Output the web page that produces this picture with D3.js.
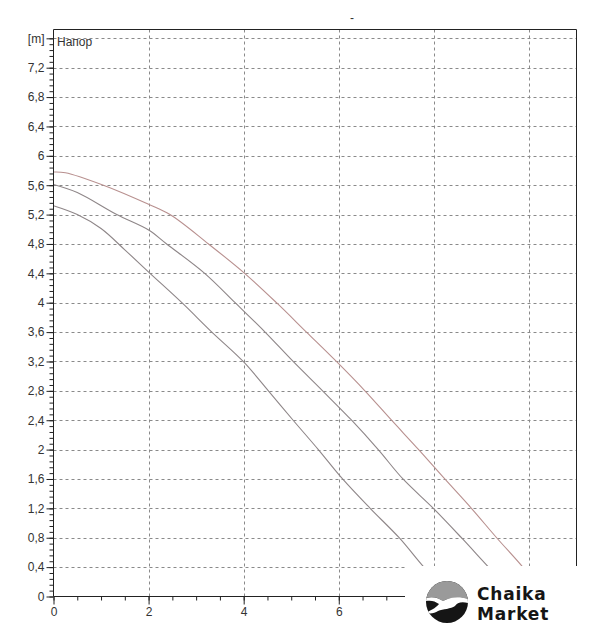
<!DOCTYPE html>
<html><head><meta charset="utf-8">
<script src="https://cdn.jsdelivr.net/npm/d3@7/dist/d3.min.js"></script>
<style>body{margin:0;background:#fff;} svg{display:block;}</style>
</head><body>
<svg id="c" width="601" height="640"></svg>
<script>
const xMajor = [0, 2, 4, 6];
const xGrid = [2, 4, 6, 8, 10];
const yMajor = [0, 0.4, 0.8, 1.2, 1.6, 2, 2.4, 2.8, 3.2, 3.6, 4, 4.4, 4.8, 5.2, 5.6, 6, 6.4, 6.8, 7.2, 7.6];
const yUnitLabel = "[m]";
const seriesLabel = "Напор";
const titleText = "-";

const curveTop = [[0,5.78],[0.25,5.77],[1.05,5.6],[2.0,5.34],[2.45,5.2],[3.26,4.8],[4.02,4.4],[4.69,4.0],[5.32,3.6],[5.95,3.2],[6.55,2.8],[7.11,2.4],[7.68,2.0],[8.23,1.6],[8.79,1.2],[9.32,0.8],[9.87,0.4],[9.98,0.3]];
const curveMid = [[0,5.61],[0.5,5.5],[1.33,5.2],[2.0,4.99],[2.38,4.8],[3.18,4.4],[3.82,4.0],[4.45,3.6],[5.04,3.2],[5.66,2.8],[6.27,2.4],[6.83,2.0],[7.35,1.6],[7.99,1.2],[8.58,0.8],[9.15,0.4],[9.3,0.3]];
const curveLow = [[0,5.32],[0.5,5.2],[1.0,5.01],[1.5,4.72],[2.03,4.4],[2.70,4.0],[3.33,3.6],[3.99,3.2],[4.52,2.8],[5.04,2.4],[5.57,2.0],[6.08,1.6],[6.66,1.2],[7.27,0.8],[7.79,0.4],[7.95,0.3]];

const svg = d3.select("#c");
const L = 53.5, R = 576.5, T = 29.5, B = 596.5;
const x = d3.scaleLinear().domain([0, 11]).range([L, R]);
const y = d3.scaleLinear().domain([0, 7.72]).range([B, T]);
const font = "Liberation Sans, Arial, sans-serif";
const fmt = d => String(d).replace(".", ",");

// grid
const g = svg.append("g");
g.selectAll("line.h").data(yMajor.filter(v => v > 0)).join("line")
  .attr("x1", L).attr("x2", R).attr("y1", d => Math.round(y(d)) + 0.5).attr("y2", d => Math.round(y(d)) + 0.5)
  .attr("stroke", "#8a8a8a").attr("stroke-dasharray", "3,3").attr("stroke-width", 1);
g.selectAll("line.v").data(xGrid).join("line")
  .attr("y1", T).attr("y2", B).attr("x1", d => Math.round(x(d)) + 0.5).attr("x2", d => Math.round(x(d)) + 0.5)
  .attr("stroke", "#8a8a8a").attr("stroke-dasharray", "3,3").attr("stroke-width", 1);

// curves
const line = d3.line().x(d => x(d[0])).y(d => y(d[1])).curve(d3.curveCatmullRom.alpha(0.5));
svg.append("path").datum(curveLow).attr("d", line).attr("fill", "none").attr("stroke", "#8e8688").attr("stroke-width", 1.1);
svg.append("path").datum(curveMid).attr("d", line).attr("fill", "none").attr("stroke", "#8e8688").attr("stroke-width", 1.1);
svg.append("path").datum(curveTop).attr("d", line).attr("fill", "none").attr("stroke", "#b8908f").attr("stroke-width", 1.1);

// frame
svg.append("line").attr("x1", L).attr("x2", R).attr("y1", T).attr("y2", T).attr("stroke", "#222");
svg.append("line").attr("x1", R).attr("x2", R).attr("y1", T).attr("y2", B).attr("stroke", "#222");

// y axis
const yMinor = d3.range(0, 7.62, 0.08).map(v => +v.toFixed(2));
svg.append("g").attr("transform", `translate(${L},0)`)
  .call(d3.axisLeft(y).tickValues(yMinor).tickSize(4).tickFormat(""))
  .call(a => a.select(".domain").remove())
  .selectAll("line").attr("stroke", "#222");
const ya = svg.append("g").attr("transform", `translate(${L},0)`)
  .call(d3.axisLeft(y).tickValues(yMajor).tickSize(7).tickPadding(2)
    .tickFormat(d => d === 7.6 ? yUnitLabel : fmt(d)));
ya.select(".domain").attr("stroke", "#222").attr("d", `M0,${B}V${T}`);
ya.selectAll("line").attr("stroke", "#222");
ya.selectAll("text").attr("font-family", font).attr("font-size", 12).attr("fill", "#333");

// x axis
const xMinor = d3.range(0, 7.51, 0.5);
svg.append("g").attr("transform", `translate(0,${B})`)
  .call(d3.axisBottom(x).tickValues(xMinor).tickSize(4).tickFormat(""))
  .call(a => a.select(".domain").remove())
  .selectAll("line").attr("stroke", "#222");
const xa = svg.append("g").attr("transform", `translate(0,${B})`)
  .call(d3.axisBottom(x).tickValues(xMajor).tickSize(8).tickPadding(3).tickFormat(fmt));
xa.select(".domain").attr("stroke", "#222").attr("d", `M${L},0H${R}`);
xa.selectAll("line").attr("stroke", "#222");
xa.selectAll("text").attr("font-family", font).attr("font-size", 12).attr("fill", "#333");

// labels
svg.append("text").attr("x", 57).attr("y", 46).text(seriesLabel)
  .attr("font-family", font).attr("font-size", 12).attr("fill", "#333");
svg.append("text").attr("x", 352).attr("y", 22).attr("text-anchor", "middle").text(titleText)
  .attr("font-family", font).attr("font-size", 12).attr("fill", "#333");

// logo
const lg = svg.append("g");
lg.append("rect").attr("x", 405).attr("y", 566).attr("width", 196).attr("height", 74).attr("fill", "#fff");
const cx = 447, cy = 602, r = 21;
const defs = svg.append("defs");
defs.append("clipPath").attr("id", "lc").append("circle").attr("cx", cx).attr("cy", cy).attr("r", r);
const cg = lg.append("g").attr("clip-path", "url(#lc)");
cg.append("rect").attr("x", cx - r).attr("y", cy - r).attr("width", 2 * r).attr("height", 2 * r).attr("fill", "#151515");
cg.append("path").attr("fill", "#9a9a9a")
  .attr("d", `M${cx - r},${cy - r} H${cx + r} V${cy - 3} C${cx + 10},${cy - 6} ${cx + 2},${cy - 4} ${cx - 4},${cy - 1} C${cx - 10},${cy - 5} ${cx - 16},${cy - 6} ${cx - r},${cy - 4} Z`);
cg.append("path").attr("fill", "#fff")
  .attr("d", `M${cx - r},${cy - 4} C${cx - 14},${cy - 6} ${cx - 9},${cy - 4} ${cx - 4},${cy - 1} C${cx + 3},${cy - 5} ${cx + 12},${cy - 6} ${cx + r},${cy - 3} L${cx + r},${cy + 1} C${cx + 14},${cy - 1} ${cx + 10},${cy + 1} ${cx + 8},${cy + 4} C${cx + 4},${cy + 7} ${cx - 4},${cy + 7} ${cx - 9},${cy + 9} C${cx - 12},${cy + 11} ${cx - 16},${cy + 12} ${cx - r},${cy + 11} C${cx - 14},${cy + 7} ${cx - 10},${cy + 5} ${cx - 8},${cy + 2} C${cx - 12},${cy - 1} ${cx - 16},${cy - 2} ${cx - r},${cy - 1} Z`);
lg.append("text").attr("x", 477).attr("y", 600).text("Chaika")
  .attr("font-family", "DejaVu Sans, sans-serif").attr("font-weight", "bold").attr("font-size", 17).attr("letter-spacing", 0.8).attr("fill", "#151515");
lg.append("text").attr("x", 477).attr("y", 620).text("Market")
  .attr("font-family", "DejaVu Sans, sans-serif").attr("font-weight", "bold").attr("font-size", 17).attr("letter-spacing", 0.8).attr("fill", "#151515");
</script>
</body></html>
